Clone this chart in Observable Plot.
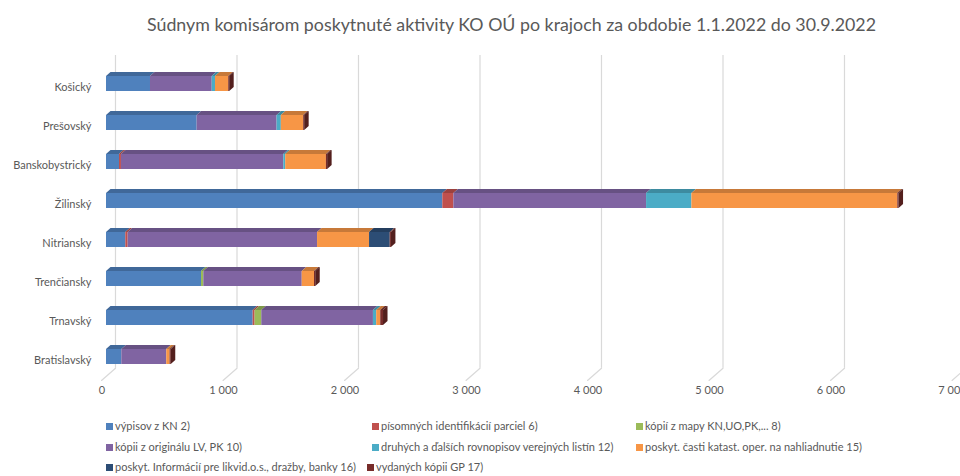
<!DOCTYPE html>
<html><head><meta charset="utf-8">
<script src="https://cdn.jsdelivr.net/npm/d3@7"></script>
<script src="https://cdn.jsdelivr.net/npm/@observablehq/plot@0.6"></script>
<style>
body{margin:0;background:#fff;font-family:Lato,"Open Sans",sans-serif;}
#wrap{position:relative;width:960px;height:476px;overflow:hidden;background:#fff;}
#title{position:absolute;left:147px;top:13px;white-space:nowrap;font-size:18px;line-height:22px;color:#595959;transform-origin:0 50%;}
#chart{position:absolute;left:0;top:44px;}
.leg{position:absolute;font-size:11px;color:#595959;white-space:nowrap;line-height:12px;}
.leg i{display:inline-block;width:7px;height:7px;margin-right:2px;vertical-align:0px;}
</style></head><body>
<div id="wrap"><div id="title"></div><div id="chart"></div><div id="legend"></div></div>
<script>
const titleText = "Súdnym komisárom poskytnuté aktivity KO OÚ po krajoch za obdobie 1.1.2022 do 30.9.2022";
const regions = ["Košický","Prešovský","Banskobystrický","Žilinský","Nitriansky","Trenčiansky","Trnavský","Bratislavský"];
const seriesNames = [
  "výpisov z KN 2)",
  "písomných identifikácií parciel 6)",
  "kópií z mapy KN,UO,PK,... 8)",
  "kópii z originálu LV, PK 10)",
  "druhých a ďalších rovnopisov verejných listín 12)",
  "poskyt. časti katast. oper. na nahliadnutie 15)",
  "poskyt. Informácií pre likvid.o.s., dražby, banky 16)",
  "vydaných kópii GP 17)"
];
const seriesColors = ["#4F81BD","#C0504D","#9BBB59","#8064A2","#4BACC6","#F79646","#2C4D75","#772C2A"];
// values per region (order of regions above)
const vypisovKN      = [362, 746, 107, 2768, 159, 782, 1207, 126];
const pisomnychIdent = [0, 0, 16, 91, 19, 0, 16, 0];
const kopiiZMapy     = [0, 0, 0, 0, 0, 19, 55, 0];
const kopiiZOriginalu= [508, 658, 1336, 1586, 1559, 810, 919, 370];
const druhychRovnop  = [27, 35, 16, 373, 0, 0, 27, 0];
const castiKatast    = [109, 184, 335, 1695, 428, 101, 33, 27];
const informacii     = [0, 0, 0, 0, 170, 0, 0, 0];
const kopiiGP        = [8, 8, 10, 10, 10, 10, 23, 10];
const seriesValues = [vypisovKN, pisomnychIdent, kopiiZMapy, kopiiZOriginalu, druhychRovnop, castiKatast, informacii, kopiiGP];
const xTicks = [0,1000,2000,3000,4000,5000,6000,7000];

const colorOf = new Map(seriesNames.map((s,i)=>[s, seriesColors[i]]));
const topOf = new Map(seriesNames.map((s,i)=>[s, d3.color(seriesColors[i]).darker(0.6).formatHex()]));
const capColor = d3.color(seriesColors[7]).darker(1).formatHex();

const table = [];
seriesNames.forEach((s,i)=>regions.forEach((r,j)=>table.push({region:r, series:s, value:seriesValues[i][j]})));
const totals = regions.map((r,j)=>({region:r, total:d3.sum(seriesValues, v=>v[j])}));
const fmt = d => d3.format(",")(d).replace(/,/g, "\u00a0");

const lineShape = {draw(context, l){ context.moveTo(0,0); context.lineTo(0,-l); }};
const bw = 15;
const chart = Plot.plot({
  width:960, height:372,
  marginLeft:101.5, marginRight:8, marginTop:18.9, marginBottom:39.7,
  style:{fontFamily:"Lato, 'Open Sans', sans-serif", background:"transparent", overflow:"visible"},
  x:{domain:[0,7000], axis:null},
  y:{domain:regions, axis:null, paddingInner:0.617, paddingOuter:0.3085},
  color:{type:"identity"},
  marks:[
    Plot.ruleX(xTicks, {x:d=>d, dx:13.5, stroke:"#d9d9d9", strokeWidth:1.2, insetTop:-7.9, insetBottom:8.6}),
    Plot.vector(xTicks, {x:d=>d, frameAnchor:"bottom", dx:13.5, dy:-8.6, length:18.6, rotate:228.7, anchor:"start", stroke:"#d9d9d9", strokeWidth:1.2, fill:"none", shape:lineShape}),
    Plot.barX(table, Plot.stackX({x:"value", y:"region", z:"series", fill:d=>colorOf.get(d.series), dx:4.5})),
    Plot.barX(table, Plot.stackX({x:"value", y:"region", z:"series", fill:d=>topOf.get(d.series), dx:4.5, dy:-4, insetBottom:bw-4})),
    Plot.barX(totals, {x1:"total", x2:"total", y:"region", fill:capColor, dx:4.5, insetRight:-4.5}),
    Plot.text(regions, {y:d=>d, text:d=>d, frameAnchor:"left", textAnchor:"end", dx:-10.5, dy:3.5, fill:"#595959", fontSize:11}),
    Plot.text(xTicks, {x:d=>d, text:fmt, frameAnchor:"bottom", dy:16.7, fill:"#595959", fontSize:11})
  ]
});
document.getElementById("chart").appendChild(chart);

// 3D skew of top faces and end caps
const barGroups = chart.querySelectorAll('g[aria-label="bar"]');
const tanTop = Math.atan(-4.5/4)*180/Math.PI;
d3.select(barGroups[1]).selectAll("rect").each(function(){
  const y = +this.getAttribute("y"), h = +this.getAttribute("height");
  const yb = y + h;
  this.setAttribute("transform", `translate(0,${yb}) skewX(${tanTop}) translate(0,${-yb})`);
});
const tanSide = Math.atan(-4/4.5)*180/Math.PI;
d3.select(barGroups[2]).selectAll("rect").each(function(){
  const x = +this.getAttribute("x");
  this.setAttribute("transform", `translate(${x},0) skewY(${tanSide}) translate(${-x},0)`);
});

// title
const t = document.getElementById("title");
t.textContent = titleText;
const w = t.getBoundingClientRect().width;
t.style.transform = `scaleX(${729/w})`;

// legend
const legPos = [[106,426],[372,426],[636,426],[106,447],[372,447],[636,447],[106,467],[367,467]];
const leg = document.getElementById("legend");
seriesNames.forEach((s,i)=>{
  const d = document.createElement("div");
  d.className = "leg";
  d.style.left = legPos[i][0]+"px";
  d.style.top = (legPos[i][1]-6)+"px";
  d.innerHTML = `<i style="background:${seriesColors[i]}"></i>`;
  d.appendChild(document.createTextNode(s));
  leg.appendChild(d);
});
</script>
</body></html>
